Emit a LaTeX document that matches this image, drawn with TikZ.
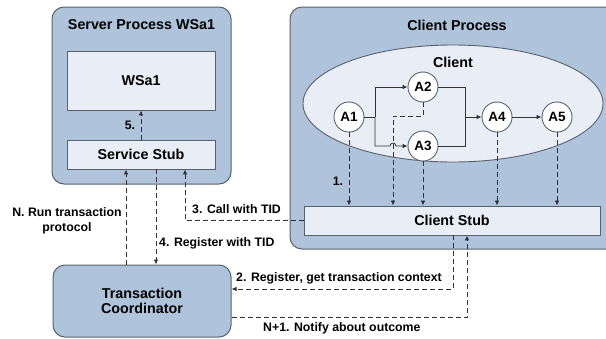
\documentclass[tikz,border=0pt]{standalone}
\usepackage{fontspec}
\setmainfont{Liberation Sans}
\usetikzlibrary{shapes.geometric,arrows.meta}
\definecolor{outerfill}{RGB}{175,195,219}
\definecolor{innerfill}{RGB}{232,237,246}
\definecolor{bordercol}{RGB}{88,98,110}
\definecolor{linecol}{RGB}{50,50,50}
\tikzset{
  outerbox/.style={draw=bordercol, fill=outerfill, rounded corners=12pt, line width=1pt},
  innerbox/.style={draw=bordercol, fill=innerfill, line width=0.9pt, inner sep=0pt},
  bigtxt/.style={font=\fontsize{14.3}{16}\selectfont\bfseries},
  smalltxt/.style={font=\fontsize{12.3}{15}\selectfont\bfseries},
  act/.style={circle, draw=bordercol, fill=white, line width=0.9pt, minimum size=30pt, inner sep=0pt, font=\fontsize{13.5}{15}\selectfont\bfseries},
  solidarr/.style={draw=linecol, line width=0.8pt, -{Latex[length=5pt,width=4.5pt]}},
  solidln/.style={draw=linecol, line width=0.8pt},
  dasharr/.style={draw=linecol, line width=0.8pt, dash pattern=on 5pt off 3pt, -{Latex[length=5pt,width=4.5pt]}},
  dashln/.style={draw=linecol, line width=0.8pt, dash pattern=on 5pt off 3pt},
}
\begin{document}
\begin{tikzpicture}[x=1pt,y=-1pt]
\useasboundingbox (0,0) rectangle (606,338);
\clip (0,0) rectangle (606,338);
% Server process
\node[outerbox, minimum width=179pt, minimum height=177pt] (srv) at (141.5,95.5) {};
\node[bigtxt] (srvtitle) at (141.5,25) {Server Process WSa1};
\node[innerbox, minimum width=148pt, minimum height=59pt, bigtxt] (wsa) at (141,80.5) {WSa1};
\node[innerbox, minimum width=148pt, minimum height=29pt, bigtxt] (sstub) at (141,154.5) {Service Stub};
% Client process
\node[outerbox, minimum width=332pt, minimum height=242pt] (cli) at (456,128) {};
\node[bigtxt] (clititle) at (457,25) {Client Process};
\node[ellipse, draw=bordercol, fill=innerfill, line width=0.9pt, minimum width=300pt, minimum height=117pt] (ell) at (453,103.5) {};
\node[bigtxt] (clientlbl) at (453,62) {Client};
\node[act] (A1) at (349,117) {A1};
\node[act] (A2) at (423,87) {A2};
\node[act] (A3) at (423,146) {A3};
\node[act] (A4) at (497,117) {A4};
\node[act] (A5) at (557,117) {A5};
\node[innerbox, minimum width=296pt, minimum height=29pt, bigtxt] (cstub) at (452,220.5) {Client Stub};
% Coordinator
\node[outerbox, minimum width=178pt, minimum height=72pt, bigtxt, align=center] (coord) at (142,301) {Transaction\\[-1pt]Coordinator};
% Solid flow in client
\coordinate (j) at (375,117);
\coordinate (m) at (465,117);
\draw[solidln] (A1.east) -- (j);
\draw[solidarr] (j) |- (A2.west);
\draw[solidarr] (j) -- (375,146) -- (390,146) arc (180:360:3) -- (A3.west);
\draw[solidln] (A2.east) -| (m);
\draw[solidln] (A3.east) -| (m);
\draw[solidarr] (m) -- (A4.west);
\draw[solidarr] (A4.east) -- (A5.west);
% Dashed calls to client stub
\draw[dasharr] (A1.south) -- (A1.south |- cstub.north);
\coordinate (a2c) at (393,116);
\draw[dasharr] (A2.south) |- (a2c) -- (a2c |- cstub.north);
\draw[dasharr] (A3.south) -- (A3.south |- cstub.north);
\draw[dasharr] (A4.south) -- (A4.south |- cstub.north);
\draw[dasharr] (A5.south) -- (A5.south |- cstub.north);
\node[smalltxt] (l1) at (338,181) {1.};
% 5.
\draw[dasharr] (sstub.north) -- (wsa.south);
\node[smalltxt] (l5) at (130,125) {5.};
% 3. Call with TID
\coordinate (c3) at (185,220.5);
\draw[dasharr] (cstub.west) -- (c3) -- (c3 |- sstub.south);
\node[smalltxt, anchor=west, inner sep=0pt] (l3) at (192,209) {3. Call with TID};
% 4. Register with TID
\coordinate (c4) at (156,169);
\draw[dasharr] (c4 |- sstub.south) -- (c4 |- coord.north);
\node[smalltxt, anchor=west, inner sep=0pt] (l4) at (159,243.5) {4. Register with TID};
% N. Run transaction protocol
\coordinate (cn) at (126,265);
\draw[dasharr] (cn |- coord.north) -- (cn |- sstub.south);
\node[smalltxt, align=center, inner sep=0pt] (ln) at (67,221) {N. Run transaction\\protocol};
% 2. Register
\coordinate (c2) at (453,289);
\draw[dasharr] (c2 |- cstub.south) -- (c2) -- (c2 -| coord.east);
\node[smalltxt, anchor=west, inner sep=0pt] (l2) at (236,278) {2. Register, get transaction context};
% N+1
\coordinate (c6) at (467,317);
\draw[dasharr] (c6 -| coord.east) -- (c6) -- (c6 |- cstub.south);
\node[smalltxt, anchor=west, inner sep=0pt] (l6) at (263,328) {N+1. Notify about outcome};
\end{tikzpicture}
\end{document}
